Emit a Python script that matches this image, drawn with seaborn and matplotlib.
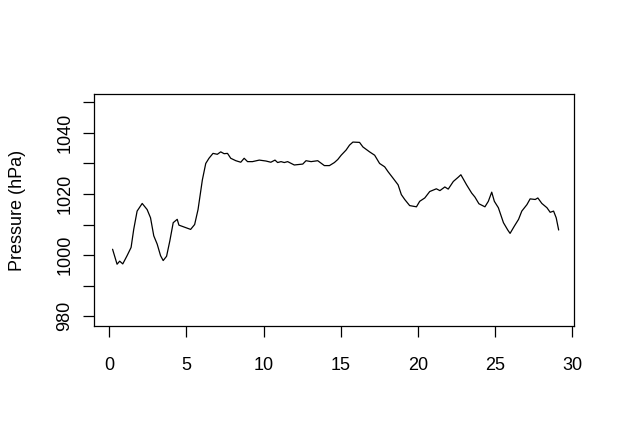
import matplotlib
matplotlib.use("Agg")
import matplotlib.pyplot as plt
import pandas as pd
import seaborn as sns

# values (day, pressure in hPa)
days = [
    0.21, 0.5, 0.67, 0.87, 1.15, 1.41, 1.58, 1.8, 2.13, 2.45, 2.67, 2.88,
    3.1, 3.32, 3.49, 3.71, 3.92, 4.14, 4.4, 4.51, 5.27, 5.53, 5.75, 6.03,
    6.25, 6.46, 6.72, 7.0, 7.22, 7.44, 7.66, 7.87, 8.2, 8.52, 8.74, 8.96,
    9.28, 9.72, 10.15, 10.47, 10.74, 10.91, 11.13, 11.34, 11.56, 11.99,
    12.54, 12.75, 13.08, 13.51, 13.94, 14.27, 14.59, 14.81, 15.03, 15.35,
    15.57, 15.79, 16.22, 16.44, 16.87, 17.2, 17.52, 17.85, 18.07, 18.39,
    18.72, 18.93, 19.15, 19.47, 19.91, 20.12, 20.45, 20.77, 21.2, 21.43,
    21.75, 21.97, 22.3, 22.62, 22.79, 23.16, 23.49, 23.7, 23.96, 24.35,
    24.57, 24.79, 24.96, 25.22, 25.55, 25.83, 25.98, 26.26, 26.53, 26.74,
    27.07, 27.28, 27.61, 27.78, 28.04, 28.37, 28.58, 28.8, 28.97, 29.13,
]
pressure = [
    1001.9, 997.0, 998.0, 997.1, 999.8, 1002.5, 1008.4, 1014.4, 1016.9,
    1014.9, 1012.2, 1006.3, 1003.6, 999.8, 998.2, 999.6, 1004.6, 1010.6,
    1011.7, 1009.8, 1008.4, 1010.0, 1014.9, 1024.6, 1030.0, 1031.7, 1033.3,
    1033.0, 1033.8, 1033.2, 1033.3, 1031.7, 1030.9, 1030.4, 1031.7, 1030.6,
    1030.6, 1031.1, 1030.8, 1030.4, 1031.1, 1030.3, 1030.6, 1030.3, 1030.6,
    1029.5, 1029.8, 1030.9, 1030.6, 1030.9, 1029.3, 1029.3, 1030.3, 1031.3,
    1032.7, 1034.4, 1036.0, 1037.0, 1036.9, 1035.4, 1033.8, 1032.7, 1030.0,
    1028.9, 1027.3, 1025.2, 1023.0, 1019.8, 1018.2, 1016.2, 1015.8, 1017.6,
    1018.7, 1020.8, 1021.7, 1021.1, 1022.3, 1021.6, 1024.1, 1025.5, 1026.3,
    1023.0, 1020.3, 1019.0, 1016.8, 1015.8, 1017.6, 1020.6, 1017.6, 1015.5,
    1010.6, 1008.2, 1007.1, 1009.5, 1011.7, 1014.4, 1016.5, 1018.4, 1018.2,
    1018.7, 1016.9, 1015.5, 1014.0, 1014.4, 1012.2, 1008.2,
]
x_ticks = [0, 5, 10, 15, 20, 25, 30]
y_ticks = [980, 990, 1000, 1010, 1020, 1030, 1040, 1050]
y_tick_labels = ["980", "", "1000", "", "1020", "", "1040", ""]

df = pd.DataFrame({"day": days, "pressure": pressure})

sns.set_style("white")
plt.rcParams["font.family"] = ["Liberation Sans", "DejaVu Sans"]

fig = plt.figure(figsize=(6.23, 4.42), dpi=100)
ax = fig.add_axes([0.151, 0.262, 0.770, 0.525])

sns.lineplot(data=df, x="day", y="pressure", color="black", linewidth=0.9,
             sort=False, ax=ax)

ax.set_xlim(-0.99, 30.11)
ax.set_ylim(976.7, 1052.7)
ax.set_xticks(x_ticks)
ax.set_xticklabels([str(t) for t in x_ticks])
ax.set_yticks(y_ticks)
ax.set_yticklabels(y_tick_labels, rotation=90, va="center")
ax.set_xlabel("")
ax.set_ylabel("Pressure (hPa)", fontsize=13, color="black")
ax.yaxis.set_label_coords(-0.142, 0.5)

ax.tick_params(axis="both", direction="out", length=8, width=0.9,
               color="black", labelsize=13, labelcolor="black",
               bottom=True, left=True)
ax.tick_params(axis="x", pad=14)
ax.tick_params(axis="y", pad=7)
for s in ax.spines.values():
    s.set_color("black")
    s.set_linewidth(0.9)

fig.savefig("out.png", dpi=100, facecolor="white")
